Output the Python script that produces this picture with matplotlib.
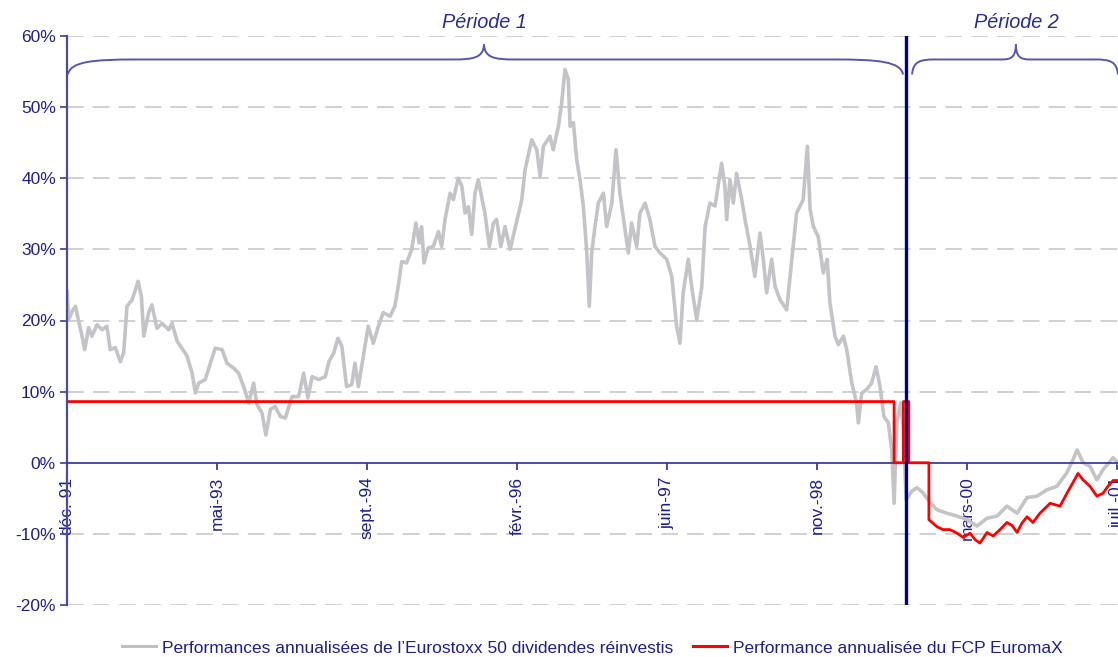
import datetime as dt
import matplotlib
matplotlib.use("Agg")
import matplotlib.pyplot as plt
from matplotlib.path import Path
from matplotlib.patches import PathPatch
from matplotlib.ticker import FixedLocator, FuncFormatter

plt.rcParams['font.family'] = ['Liberation Sans', 'DejaVu Sans']

# ---------------- data ----------------
START = dt.date(1991, 12, 30)           # first observation (day 0)

# Eurostoxx 50 (dividends reinvested) annualised performance, % ; x = days since START
eurostoxx_days = [
    0, 6, 17, 28, 39, 50, 59, 72, 83, 100, 117, 133, 144, 161, 178, 189, 200, 217, 237, 248,
    256, 272, 283, 300, 317, 339, 350, 367, 383, 400, 417, 428, 439, 461, 478, 494, 517, 533,
    556, 572, 589, 606, 622, 633, 650, 663, 678, 694, 711, 728, 750, 772, 789, 803, 817, 839,
    861, 873, 889, 903, 916, 932, 949, 960, 971, 988, 1004, 1021, 1038, 1054, 1077, 1093, 1104,
    1116, 1132, 1149, 1163, 1174, 1182, 1190, 1204, 1221, 1238, 1249, 1260, 1277, 1288, 1304,
    1316, 1327, 1338, 1349, 1360, 1371, 1382, 1393, 1408, 1421, 1432, 1446, 1460, 1477, 1499,
    1516, 1527, 1549, 1566, 1577, 1588, 1610, 1621, 1638, 1649, 1660, 1671, 1677, 1688, 1699,
    1710, 1721, 1732, 1741, 1749, 1760, 1771, 1788, 1799, 1816, 1830, 1843, 1854, 1871, 1882,
    1899, 1910, 1927, 1943, 1960, 1977, 1999, 2016, 2032, 2043, 2054, 2071, 2082, 2099, 2116,
    2127, 2143, 2160, 2182, 2193, 2199, 2210, 2221, 2232, 2249, 2260, 2277, 2293, 2310, 2321,
    2332, 2349, 2360, 2377, 2399, 2416, 2432, 2454, 2468, 2477, 2488, 2504, 2521, 2534, 2543,
    2560, 2571, 2588, 2599, 2616, 2632, 2638, 2649, 2666, 2682, 2697, 2710, 2723, 2738, 2749,
    2757, 2766, 2779, 2788, 2797, 2816, 2833, 2853, 2877, 2900, 2933, 2967, 3000, 3033, 3067,
    3100, 3133, 3167, 3200, 3233, 3267, 3300, 3333, 3353, 3367, 3387, 3410, 3433, 3453, 3487,
    3503]
eurostoxx_perf = [
    24.1, 20.1, 21.3, 22.0, 19.9, 17.8, 15.9, 19.0, 17.8, 19.4, 18.7, 19.2, 15.9, 16.2, 14.2,
    15.5, 22.0, 22.9, 25.5, 23.4, 17.8, 21.1, 22.2, 18.9, 19.6, 18.7, 19.6, 17.1, 16.1, 15.0,
    12.6, 9.8, 11.2, 11.7, 14.0, 16.1, 15.9, 14.0, 13.3, 12.6, 10.7, 8.4, 11.2, 8.2, 7.0, 3.9,
    7.5, 7.9, 6.5, 6.3, 9.3, 9.3, 12.6, 9.1, 12.1, 11.7, 12.1, 14.2, 15.4, 17.5, 16.4, 10.7,
    11.0, 14.0, 10.7, 15.0, 19.2, 16.8, 19.2, 21.1, 20.6, 22.0, 24.8, 28.3, 28.1, 30.0, 33.7,
    30.9, 33.2, 28.1, 30.2, 30.4, 32.5, 30.4, 34.2, 37.9, 37.0, 40.0, 38.9, 35.1, 36.0, 32.1,
    37.9, 39.8, 37.4, 35.1, 30.4, 33.7, 34.2, 30.4, 33.2, 30.0, 33.9, 37.0, 41.2, 45.4, 44.0,
    40.3, 44.5, 45.9, 44.0, 47.3, 50.6, 55.3, 53.9, 47.3, 47.8, 42.6, 39.8, 36.1, 30.0, 22.0,
    29.5, 33.2, 36.5, 37.9, 33.2, 36.5, 44.0, 37.9, 34.6, 29.5, 33.7, 30.4, 35.1, 36.5, 34.2,
    30.4, 29.5, 28.6, 26.2, 19.2, 16.8, 23.9, 28.6, 24.8, 20.1, 24.8, 33.2, 36.5, 36.1, 42.1,
    38.9, 34.2, 39.8, 36.5, 40.7, 37.0, 34.2, 30.4, 26.2, 32.3, 28.6, 23.9, 28.6, 24.8, 22.9,
    21.5, 28.6, 35.1, 37.0, 44.5, 35.6, 33.2, 31.8, 26.7, 28.6, 22.5, 17.8, 16.6, 17.8, 15.9,
    11.2, 8.4, 5.6, 9.8, 10.3, 11.2, 13.5, 10.7, 6.5, 5.6, 1.8, -5.7, 5.6, 8.4, 4.6, -5.2,
    -4.0, -3.5, -4.2, -5.6, -6.6, -7.1, -7.5, -8.0, -8.9, -7.8, -7.5, -6.1, -7.1, -4.9, -4.7,
    -3.8, -3.3, -1.4, 0.4, 1.8, 0.0, -0.5, -2.4, -1.0, 0.7, 0.0]

# FCP EuromaX annualised performance, %
euromax_days = [
    0, 2757, 2757, 2788, 2788, 2806, 2806, 2873, 2873, 2887, 2900, 2920, 2943, 2967, 2987,
    3010, 3027, 3043, 3067, 3087, 3110, 3133, 3150, 3167, 3183, 3200, 3220, 3243, 3277, 3310,
    3333, 3353, 3370, 3387, 3410, 3433, 3453, 3470, 3487, 3503]
euromax_perf = [
    8.6, 8.6, 0.0, 0.0, 8.6, 8.6, 0.0, 0.0, -8.0, -8.5, -9.0, -9.4, -9.4, -9.9, -10.5,
    -9.9, -10.8, -11.3, -9.8, -10.3, -9.4, -8.4, -8.8, -9.8, -8.5, -7.6, -8.4, -7.1, -5.7, -6.1,
    -4.3, -2.8, -1.5, -2.4, -3.3, -4.7, -4.3, -3.3, -2.5, -2.5]

period_split_day = 2797
tick_days = [0, 500, 1000, 1500, 2000, 2500, 3000, 3500]
months_fr = ['janv.', 'févr.', 'mars', 'avr.', 'mai', 'juin', 'juil.', 'août',
             'sept.', 'oct.', 'nov.', 'déc.']
y_ticks = [-20, -10, 0, 10, 20, 30, 40, 50, 60]
periods = [('Période 1', 3, 1390, 2787), ('Période 2', 2817, 3163, 3503)]
legend_labels = ["Performances annualisées de l\u2019Eurostoxx 50 dividendes réinvestis",
                 "Performance annualisée du FCP EuromaX"]

# ---------------- style ----------------
W, H = 1118, 657
TXT = '#1E1E8C'
AXC = '#4A4AA6'
GREY = '#C3C3C8'
FS = 12.5

fig = plt.figure(figsize=(W / 100, H / 100), dpi=100)
ax_left, ax_right, ax_top, ax_bot = 67, 1125, 36, 605
ax = fig.add_axes([ax_left / W, 1 - ax_bot / H, (ax_right - ax_left) / W, (ax_bot - ax_top) / H])
ax.set_xlim(0, (ax_right - ax_left) / 0.3)
ax.set_ylim(-20, 60)

# grid
for yv in y_ticks:
    if yv != 0:
        ax.axhline(yv, color='#C8C8C8', lw=1.2, ls=(0, (10, 5.5)), zorder=0.5)

# series
ax.plot(eurostoxx_days, eurostoxx_perf, color=GREY, lw=2.6, zorder=2)
ax.plot(euromax_days, euromax_perf, color='#FF0000', lw=2.0, zorder=3)
ax.axvline(period_split_day, color='#00008B', lw=2.4, zorder=4)

# axes
for s in ['top', 'right']:
    ax.spines[s].set_visible(False)
ax.spines['left'].set_color(AXC)
ax.spines['left'].set_linewidth(1.6)
ax.spines['bottom'].set_position(('data', 0))
ax.spines['bottom'].set_color('#2E2E96')
ax.spines['bottom'].set_linewidth(1.2)
ax.spines['bottom'].set_zorder(2.5)

ax.yaxis.set_major_locator(FixedLocator(y_ticks))
ax.yaxis.set_major_formatter(FuncFormatter(lambda v, p: f'{v:.0f}%'))
ax.tick_params(axis='y', colors=AXC, labelcolor=TXT, labelsize=FS, length=5, width=1.3, pad=3)

def fmt_date(d, p):
    day = START + dt.timedelta(days=int(round(d)))
    return f'{months_fr[day.month - 1]}-{day.year % 100:02d}'

ax.xaxis.set_major_locator(FixedLocator(tick_days))
ax.xaxis.set_major_formatter(FuncFormatter(fmt_date))
ax.tick_params(axis='x', colors='#2E2E96', labelcolor=TXT, labelsize=FS, length=5,
               width=1.2, pad=5, labelrotation=90)
for lab in ax.get_xticklabels():
    lab.set_va('top')

# braces
def brace(x0, xc, x1, end_w, mid_w, y_end=54.6, y_line=56.7, y_peak=58.8):
    verts = [
        (x0, y_end), (x0 + 0.04 * end_w, y_line - 0.3), (x0 + 0.35 * end_w, y_line), (x0 + end_w, y_line),
        (xc - mid_w, y_line),
        (xc - 0.35 * mid_w, y_line), (xc - 0.02 * mid_w, y_line + 0.25), (xc, y_peak),
        (xc + 0.02 * mid_w, y_line + 0.25), (xc + 0.35 * mid_w, y_line), (xc + mid_w, y_line),
        (x1 - end_w, y_line),
        (x1 - 0.35 * end_w, y_line), (x1 - 0.04 * end_w, y_line - 0.3), (x1, y_end),
    ]
    codes = [Path.MOVETO, Path.CURVE4, Path.CURVE4, Path.CURVE4,
             Path.LINETO,
             Path.CURVE4, Path.CURVE4, Path.CURVE4,
             Path.CURVE4, Path.CURVE4, Path.CURVE4,
             Path.LINETO,
             Path.CURVE4, Path.CURVE4, Path.CURVE4]
    ax.add_patch(PathPatch(Path(verts, codes), fill=False, ec='#5656AE', lw=1.4, zorder=5,
                           clip_on=False))

brace(periods[0][1], periods[0][2], periods[0][3], 230, 100)
brace(periods[1][1], periods[1][2], periods[1][3], 75, 48)
for name, x0, xc, x1 in periods:
    ax.text(xc, 60.6, name, ha='center', va='bottom', fontsize=14.3, style='italic',
            color='#2A2A96', clip_on=False)

# legend
h1, = ax.plot([], [], color='#C0C0C0', lw=2.2)
h2, = ax.plot([], [], color='#FF0000', lw=2.2)
fig.legend([h1, h2], legend_labels, loc='center', bbox_to_anchor=(592 / W, 1 - 648 / H),
           ncol=2, frameon=False, fontsize=FS, labelcolor=TXT, handlelength=2.0,
           handletextpad=0.3, columnspacing=1.15, borderpad=0, borderaxespad=0)

fig.savefig('out.png', dpi=100)
